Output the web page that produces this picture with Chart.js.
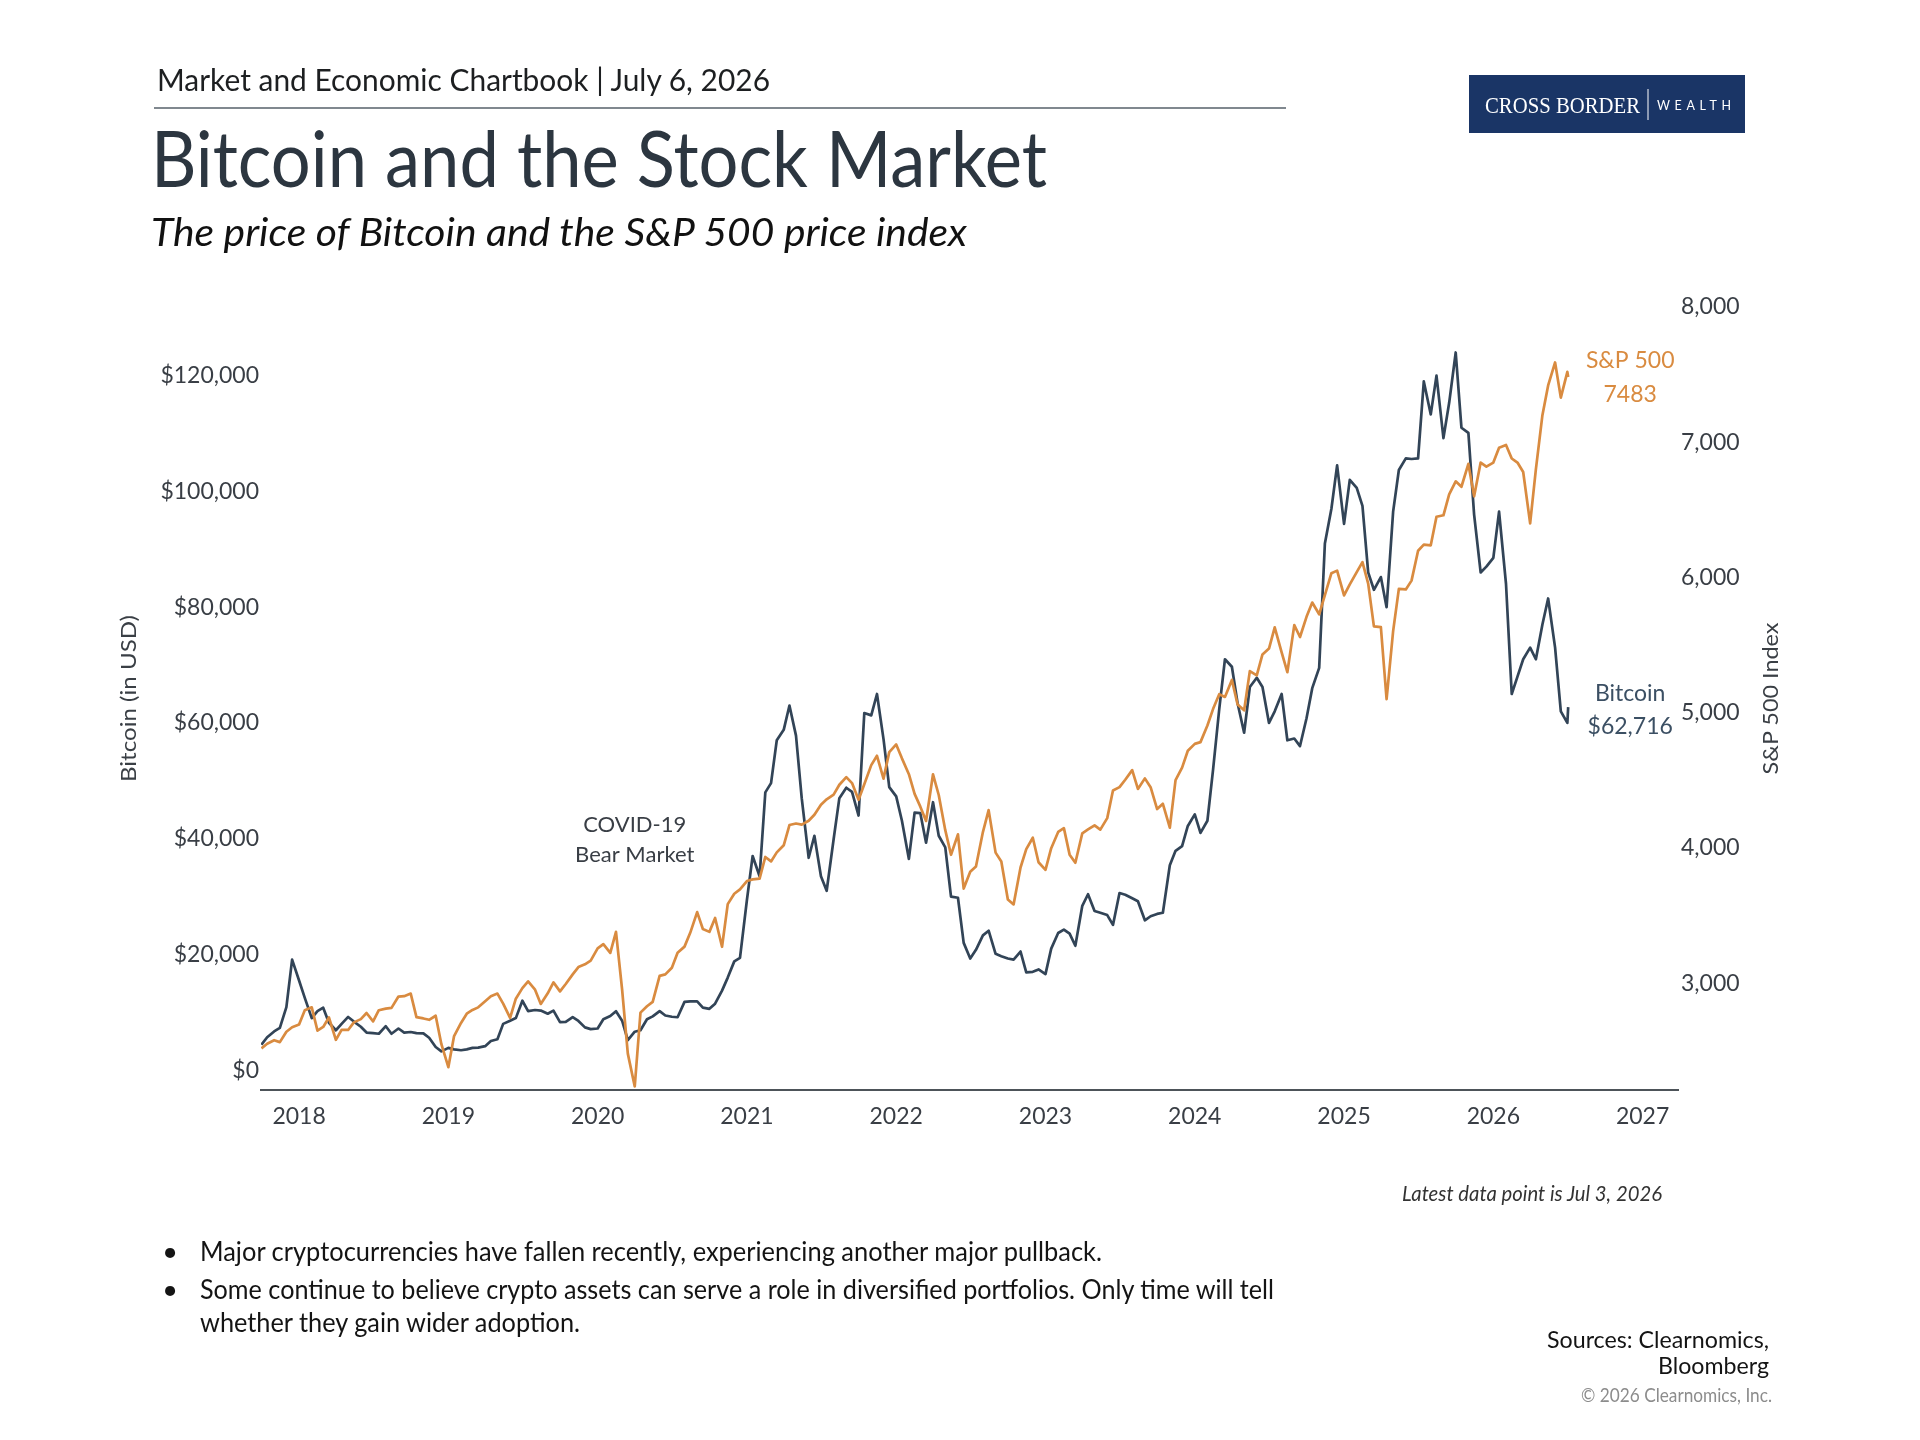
<!DOCTYPE html>
<html>
<head>
<meta charset="utf-8">
<title>Bitcoin and the Stock Market</title>
<script src="https://cdn.jsdelivr.net/npm/chart.js@4/dist/chart.umd.min.js"></script>
<style>
  html, body { margin: 0; padding: 0; background: #fff; }
  #page { position: relative; width: 1920px; height: 1440px; overflow: hidden; font-family: Lato, "Open Sans", sans-serif; }
  #chartBox { position: absolute; left: 100px; top: 270px; width: 1720px; height: 880px; }
  #overlay { position: absolute; left: 0; top: 0; pointer-events: none; }
</style>
</head>
<body>
<div id="page">
  <div id="chartBox"><canvas id="btcChart"></canvas></div>
  <svg id="overlay" width="1920" height="1440" font-family="Lato, 'Open Sans', sans-serif">
    <text x="157" y="90.6" font-size="30" fill="#1d1f21" textLength="613" lengthAdjust="spacingAndGlyphs">Market and Economic Chartbook | July 6, 2026</text>
    <line x1="154" y1="108" x2="1286" y2="108" stroke="#56606a" stroke-width="1.6"/>
    <text x="151" y="187" font-size="77" fill="#2c3640" textLength="896" lengthAdjust="spacingAndGlyphs">Bitcoin and the Stock Market</text>
    <text x="151" y="246" font-size="39" font-style="italic" fill="#111" textLength="816" lengthAdjust="spacingAndGlyphs">The price of Bitcoin and the S&amp;P 500 price index</text>

    <rect x="1469" y="75" width="276" height="58" fill="#1a3566"/>
    <text x="1485" y="112.5" font-family="'Liberation Serif', 'DejaVu Serif', serif" font-size="23" fill="#fff" textLength="155" lengthAdjust="spacingAndGlyphs">CROSS BORDER</text>
    <line x1="1648" y1="89" x2="1648" y2="120" stroke="#fff" stroke-width="1"/>
    <text x="1657" y="110" font-size="12.5" fill="#fff" textLength="74" lengthAdjust="spacing">WEALTH</text>

    <text transform="translate(127,698.5) rotate(-90)" text-anchor="middle" dominant-baseline="central" font-size="22" fill="#3a3f45" textLength="167" lengthAdjust="spacingAndGlyphs">Bitcoin (in USD)</text>
    <text transform="translate(1769,698.5) rotate(-90)" text-anchor="middle" dominant-baseline="central" font-size="22" fill="#3a3f45" textLength="152" lengthAdjust="spacingAndGlyphs">S&amp;P 500 Index</text>

    <text x="1662" y="1201" text-anchor="end" font-size="21" font-style="italic" fill="#333" textLength="260" lengthAdjust="spacingAndGlyphs">Latest data point is Jul 3, 2026</text>

    <text x="170" y="1261" text-anchor="middle" font-size="27" fill="#141414">•</text>
    <text x="200" y="1261" font-size="27" fill="#141414" textLength="902" lengthAdjust="spacingAndGlyphs">Major cryptocurrencies have fallen recently, experiencing another major pullback.</text>
    <text x="170" y="1299" text-anchor="middle" font-size="27" fill="#141414">•</text>
    <text x="200" y="1299" font-size="27" fill="#141414" textLength="1074" lengthAdjust="spacingAndGlyphs">Some continue to believe crypto assets can serve a role in diversified portfolios. Only time will tell</text>
    <text x="200" y="1332" font-size="27" fill="#141414" textLength="380" lengthAdjust="spacingAndGlyphs">whether they gain wider adoption.</text>

    <text x="1769" y="1348" text-anchor="end" font-size="23" fill="#141414" textLength="222" lengthAdjust="spacingAndGlyphs">Sources: Clearnomics,</text>
    <text x="1769" y="1374" text-anchor="end" font-size="23" fill="#141414" textLength="111" lengthAdjust="spacingAndGlyphs">Bloomberg</text>
    <text x="1772" y="1402" text-anchor="end" font-size="19" fill="#8c8c8c" textLength="191" lengthAdjust="spacingAndGlyphs">© 2026 Clearnomics, Inc.</text>
  </svg>
</div>

<script>
// samples on the 1st and 15th of each month, Oct 2017 .. Jul 2026, then the latest point
const bitcoinPrices = [
  4400, 5700, 6700, 7300, 10900, 19100,
  15500, 12500, 9000, 10200, 10800, 8200, 6900, 8000, 9200, 8400, 7500, 6500, 6400, 6300, 7600, 6300, 7200, 6500, 6600, 6400, 6350, 5600, 4000, 3250,
  3850, 3600, 3450, 3600, 3850, 3900, 4150, 5050, 5350, 8000, 8550, 9000, 12000, 10200, 10400, 10300, 9750, 10300, 8300, 8350, 9150, 8500, 7400, 7100,
  7200, 8800, 9350, 10200, 8550, 5200, 6650, 6900, 8800, 9300, 10200, 9450, 9230, 9150, 11800, 11900, 11900, 10800, 10600, 11500, 13750, 16000, 18800, 19400,
  29400, 37000, 33500, 48000, 49600, 57000, 58800, 63000, 57800, 47000, 36700, 40500, 33500, 31000, 39900, 47000, 48800, 48100, 44000, 61700, 61300, 65000, 57200, 48900,
  47300, 43100, 36500, 44500, 44400, 39300, 46300, 40500, 38500, 30000, 29800, 22000, 19300, 20800, 23300, 24100, 20100, 19700, 19300, 19100, 20500, 16900, 17000, 17400,
  16600, 21000, 23700, 24300, 23600, 21500, 28400, 30400, 27500, 27200, 26800, 25100, 30600, 30300, 29700, 29200, 25900, 26600, 27000, 27200, 35400, 37900, 38700, 42200,
  44200, 41000, 43100, 52000, 62400, 71000, 69700, 63400, 58300, 66200, 67800, 66200, 60000, 62000, 65000, 57000, 57300, 56000, 60800, 66000, 69500, 91000, 97000, 104500,
  94400, 102000, 100600, 97500, 86000, 83000, 85200, 80000, 96500, 103700, 105700, 105600, 105700, 119000, 113300, 120000, 109200, 115300, 124000, 111000, 110100, 96000, 86000, 87000,
  88500, 96500, 84000, 65000, 68000, 71000, 73000, 71000, 77000, 81500, 73000, 62000, 60000, 62716
];
const sp500Levels = [
  2519, 2553, 2579, 2565, 2642, 2675,
  2695, 2800, 2822, 2650, 2677, 2747, 2582, 2656, 2655, 2711, 2735, 2780, 2718, 2801, 2813, 2818, 2902, 2905, 2924, 2750, 2740, 2730, 2760, 2550,
  2380, 2610, 2707, 2775, 2803, 2822, 2867, 2905, 2924, 2850, 2744, 2886, 2964, 3014, 2953, 2847, 2926, 3007, 2940, 2995, 3066, 3120, 3140, 3168,
  3258, 3289, 3225, 3380, 2954, 2480, 2237, 2783, 2830, 2863, 3055, 3066, 3115, 3226, 3271, 3373, 3526, 3401, 3380, 3483, 3270, 3585, 3662, 3694,
  3756, 3768, 3774, 3934, 3901, 3968, 4020, 4170, 4181, 4173, 4202, 4246, 4320, 4360, 4395, 4468, 4524, 4480, 4357, 4471, 4613, 4682, 4513, 4709,
  4766, 4663, 4546, 4400, 4306, 4200, 4545, 4392, 4132, 3950, 4101, 3700, 3825, 3863, 4118, 4280, 3966, 3901, 3620, 3583, 3856, 3992, 4076, 3895,
  3839, 3999, 4119, 4147, 3951, 3891, 4109, 4137, 4168, 4136, 4221, 4425, 4450, 4505, 4576, 4437, 4515, 4450, 4288, 4327, 4150, 4502, 4594, 4719,
  4770, 4783, 4906, 5029, 5137, 5117, 5243, 5061, 5018, 5308, 5277, 5431, 5475, 5631, 5446, 5300, 5648, 5560, 5709, 5815, 5728, 5870, 6032, 6051,
  5868, 5949, 6040, 6114, 5955, 5639, 5633, 5100, 5604, 5916, 5912, 5977, 6198, 6243, 6238, 6449, 6460, 6615, 6711, 6671, 6840, 6600, 6850, 6820,
  6850, 6960, 6980, 6880, 6850, 6780, 6400, 6800, 7200, 7420, 7590, 7330, 7520, 7483
];
const yearTicks = [2018, 2019, 2020, 2021, 2022, 2023, 2024, 2025, 2026, 2027];
const bitcoinTicks = [0, 20000, 40000, 60000, 80000, 100000, 120000];
const sp500Ticks = [3000, 4000, 5000, 6000, 7000, 8000];
const latestDate = [2026, 7, 3];
const covidNote = { date: [2020, 4, 1], value: 42400, lines: ['COVID-19', 'Bear Market'] };

const SLATE = '#324457';
const ORANGE = '#d98b40';
const TEXT = '#393e45';

function yearFraction(y, m, d) {
  const start = Date.UTC(y, 0, 1);
  return y + (Date.UTC(y, m - 1, d) - start) / (Date.UTC(y + 1, 0, 1) - start);
}

const sampleDates = [];
for (let y = 2017; y <= 2026; y++) {
  for (let m = 1; m <= 12; m++) {
    if (y === 2017 && m < 10) continue;
    if (y === 2026 && m > 7) break;
    sampleDates.push(yearFraction(y, m, 1));
    if (!(y === 2026 && m === 7)) sampleDates.push(yearFraction(y, m, 15));
  }
}
sampleDates.push(yearFraction(...latestDate));

const toPoints = values => values.map((v, i) => ({ x: sampleDates[i], y: v }));

const noteLabels = {
  id: 'noteLabels',
  afterDatasetsDraw(chart) {
    const { ctx, scales } = chart;
    const { x, yBtc, ySpx } = scales;
    const lastX = x.getPixelForValue(sampleDates[sampleDates.length - 1]) + 62;
    const lastSpx = sp500Levels[sp500Levels.length - 1];
    const lastBtc = bitcoinPrices[bitcoinPrices.length - 1];
    ctx.save();
    ctx.font = '23px Lato';
    ctx.textAlign = 'center';
    ctx.textBaseline = 'middle';

    const spxY = ySpx.getPixelForValue(lastSpx);
    ctx.fillStyle = ORANGE;
    ctx.fillText('S&P 500', lastX, spxY - 16);
    ctx.fillText(String(lastSpx), lastX, spxY + 18);

    const btcY = yBtc.getPixelForValue(lastBtc);
    ctx.fillStyle = '#3b4f63';
    ctx.fillText('Bitcoin', lastX, btcY - 14);
    ctx.fillText('$' + lastBtc.toLocaleString('en-US'), lastX, btcY + 19);

    ctx.font = '22px Lato';
    ctx.fillStyle = TEXT;
    const cx = x.getPixelForValue(yearFraction(...covidNote.date));
    const cy = yBtc.getPixelForValue(covidNote.value);
    covidNote.lines.forEach((t, i) => ctx.fillText(t, cx, cy + i * 30));
    ctx.restore();
  }
};

const tickFont = { family: 'Lato', size: 23 };

new Chart(document.getElementById('btcChart'), {
  type: 'line',
  data: {
    datasets: [
      {
        label: 'S&P 500',
        data: toPoints(sp500Levels),
        yAxisID: 'ySpx',
        borderColor: ORANGE,
        borderWidth: 2.7,
        borderJoinStyle: 'round',
        pointRadius: 0,
        tension: 0
      },
      {
        label: 'Bitcoin',
        data: toPoints(bitcoinPrices),
        yAxisID: 'yBtc',
        borderColor: SLATE,
        borderWidth: 2.7,
        borderJoinStyle: 'round',
        pointRadius: 0,
        tension: 0
      }
    ]
  },
  options: {
    responsive: true,
    maintainAspectRatio: false,
    animation: false,
    layout: { padding: { top: 37, left: 0, right: 0, bottom: 0 } },
    plugins: { legend: { display: false }, tooltip: { enabled: false } },
    scales: {
      x: {
        type: 'linear',
        min: 2017.745,
        max: 2027.237,
        grid: { display: true, drawOnChartArea: false, drawTicks: false },
        border: { display: true, color: '#4d5359', width: 2 },
        ticks: { autoSkip: false, maxRotation: 0, padding: 13, font: tickFont, color: TEXT, callback: v => String(v) },
        afterBuildTicks: s => { s.ticks = yearTicks.map(v => ({ value: v })); },
        afterFit: s => { s.height = 60; }
      },
      yBtc: {
        position: 'left',
        min: -3422,
        max: 131858,
        grid: { display: true, drawOnChartArea: false, drawTicks: false },
        border: { display: false },
        ticks: { autoSkip: false, padding: 2, font: tickFont, color: TEXT, callback: v => '$' + v.toLocaleString('en-US') },
        afterBuildTicks: s => { s.ticks = bitcoinTicks.map(v => ({ value: v })); },
        afterFit: s => { s.width = 161; }
      },
      ySpx: {
        position: 'right',
        min: 2211,
        max: 8000,
        grid: { display: true, drawOnChartArea: false, drawTicks: false },
        border: { display: false },
        ticks: { autoSkip: false, padding: 3, font: tickFont, color: TEXT, callback: v => v.toLocaleString('en-US') },
        afterBuildTicks: s => { s.ticks = sp500Ticks.map(v => ({ value: v })); },
        afterFit: s => { s.width = 142; }
      }
    }
  },
  plugins: [noteLabels]
});
</script>
</body>
</html>
